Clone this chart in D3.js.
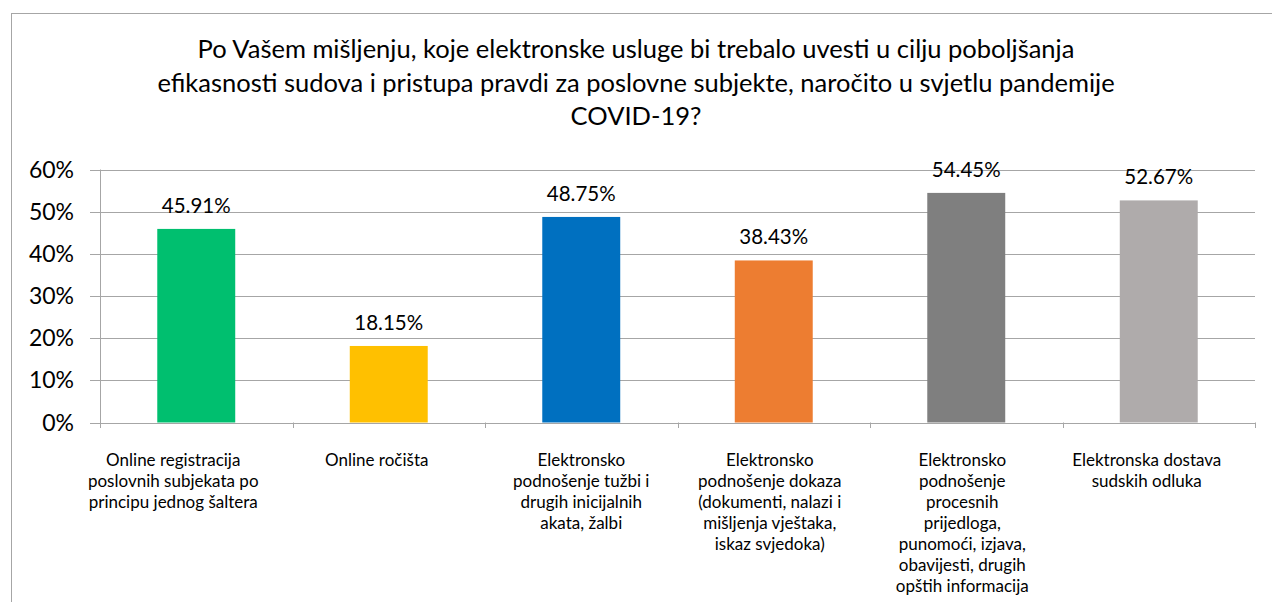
<!DOCTYPE html>
<html>
<head>
<meta charset="utf-8">
<script src="https://cdn.jsdelivr.net/npm/d3@7"></script>
<style>
  body { margin: 0; background: #fff; }
  svg { font-family: Lato, "Open Sans", sans-serif; }
</style>
</head>
<body>
<svg id="chart" width="1272" height="602"></svg>
<script>
var titleLines = [
  "Po Vašem mišljenju, koje elektronske usluge bi trebalo uvesti u cilju poboljšanja",
  "efikasnosti sudova i pristupa pravdi za poslovne subjekte, naročito u svjetlu pandemije",
  "COVID-19?"
];

var categories = [
  ["Online registracija", "poslovnih subjekata po", "principu jednog šaltera"],
  ["Online ročišta"],
  ["Elektronsko", "podnošenje tužbi i", "drugih inicijalnih", "akata, žalbi"],
  ["Elektronsko", "podnošenje dokaza", "(dokumenti, nalazi i", "mišljenja vještaka,", "iskaz svjedoka)"],
  ["Elektronsko", "podnošenje", "procesnih", "prijedloga,", "punomoći, izjava,", "obavijesti, drugih", "opštih informacija"],
  ["Elektronska dostava", "sudskih odluka"]
];

var values = [45.91, 18.15, 48.75, 38.43, 54.45, 52.67];

var colors = ["#00bf6f", "#ffc000", "#0070c0", "#ed7d31", "#7f7f7f", "#afabab"];

var yTicks = [0, 10, 20, 30, 40, 50, 60];

// excel nudges its wrapped category labels a bit to the left
var labelNudge = [-23, -12, 0, -4, -4, -12];

var svg = d3.select("#chart");

// chart frame (runs off right/bottom edge)
svg.append("rect")
    .attr("x", 11.5).attr("y", 13.5)
    .attr("width", 1300).attr("height", 700)
    .attr("fill", "none")
    .attr("stroke", "#a6a6a6");

svg.append("g").selectAll("text")
    .data(titleLines)
    .enter().append("text")
        .attr("x", 636)
        .attr("y", (d, i) => 58 + i * 33.5)
        .attr("text-anchor", "middle")
        .attr("font-size", "25.5px")
        .attr("fill", "#000")
        .text(d => d);

var x = d3.scaleBand()
    .domain(d3.range(categories.length))
    .range([100, 1255])
    .paddingInner(0.595)
    .paddingOuter(0.2975);

var y = d3.scaleLinear()
    .domain([0, 60])
    .range([422.5, 169.5]);

// gridlines
svg.append("g").selectAll("line")
    .data(yTicks)
    .enter().append("line")
        .attr("x1", 90).attr("x2", 1255)
        .attr("y1", d => Math.round(y(d)) + 0.5)
        .attr("y2", d => Math.round(y(d)) + 0.5)
        .attr("stroke", "#a6a6a6");

svg.append("g").selectAll("text")
    .data(yTicks)
    .enter().append("text")
        .attr("x", 74)
        .attr("y", d => y(d) + 8)
        .attr("text-anchor", "end")
        .attr("font-size", "23px")
        .text(d => d + "%");

// bars
svg.append("g").selectAll("rect")
    .data(values)
    .enter().append("rect")
        .attr("x", (d, i) => x(i))
        .attr("width", x.bandwidth())
        .attr("y", d => y(d))
        .attr("height", d => y(0) - y(d))
        .attr("fill", (d, i) => colors[i]);

svg.append("g").selectAll("text")
    .data(values)
    .enter().append("text")
        .attr("x", (d, i) => x(i) + x.bandwidth() / 2)
        .attr("y", d => y(d) - 16)
        .attr("text-anchor", "middle")
        .attr("font-size", "20.5px")
        .text(d => d.toFixed(2) + "%");

// axes lines
var step = (1255 - 100) / categories.length;
svg.append("line")
    .attr("x1", 100.5).attr("x2", 100.5)
    .attr("y1", 169.5).attr("y2", 428)
    .attr("stroke", "#a6a6a6");

svg.append("g").selectAll("line")
    .data(d3.range(categories.length + 1))
    .enter().append("line")
        .attr("x1", d => Math.round(100 + d * step) + 0.5)
        .attr("x2", d => Math.round(100 + d * step) + 0.5)
        .attr("y1", 422.5).attr("y2", 428)
        .attr("stroke", "#a6a6a6");

// category labels
var cat = svg.append("g").selectAll("text")
    .data(categories)
    .enter().append("text")
        .attr("text-anchor", "middle")
        .attr("font-size", "17px")
        .attr("fill", "#000");

cat.selectAll("tspan")
    .data((d, i) => d.map(t => ({ t: t, i: i })))
    .enter().append("tspan")
        .attr("x", d => x(d.i) + x.bandwidth() / 2 + labelNudge[d.i])
        .attr("y", (d, j) => 466 + j * 21)
        .text(d => d.t);
</script>
</body>
</html>
